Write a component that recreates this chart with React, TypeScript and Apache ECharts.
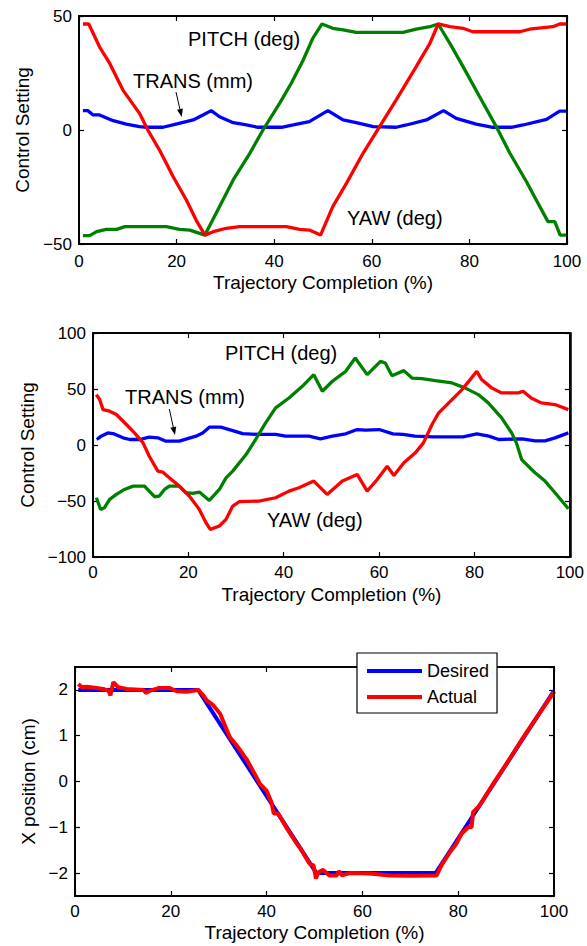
import React, { useEffect, useRef } from "react";
import * as echarts from "echarts";

type P = [number, number];

// ---------- Plot 1 (simulated control settings) ----------
const p1Yaw: P[] = [[0.8,46.5],[2.0,46.5],[4.2,36.5],[6.3,29.2],[9.0,17.5],[12.4,7.3],[14.1,0],[16.5,-8.8],[19.3,-20.5],[22.0,-30.7],[24.0,-39.5],[25.8,-46.1],[27.5,-44.6],[30.2,-43.1],[32.9,-42.4],[42.5,-42.4],[45.2,-43.6],[47.2,-43.9],[49.5,-46.1],[52.0,-33.6],[54.8,-23.4],[58.2,-10.2],[61.6,1.5],[65.0,13.2],[69.1,27.8],[71.9,38.0],[73.6,46.5],[76.0,45.3],[78.7,44.6],[80.7,43.1],[90.3,43.1],[92.3,44.2],[97.1,45.3],[98.5,46.5],[100,46.5]];
const p1Pitch: P[] = [[0.8,-46.3],[2.2,-46.3],[3.6,-44.6],[5.6,-43.6],[7.7,-43.6],[9.4,-42.4],[17.9,-42.4],[20.6,-43.6],[22.7,-43.9],[25.8,-46.1],[28.1,-36.5],[31.6,-21.9],[35.0,-10.2],[37.7,0],[41.1,11.7],[43.5,20.5],[45.9,30.5],[47.9,40.2],[49.8,46.5],[52.0,44.6],[54.1,43.9],[56.8,42.8],[66.4,42.8],[69.1,44.2],[71.9,45.3],[73.6,46.5],[76.0,38.0],[78.7,27.8],[82.1,14.6],[85.5,1.5],[88.3,-10.2],[91.7,-22.7],[93.7,-30.7],[96.1,-40.2],[97.5,-40.2],[98.6,-46.1],[100,-46.1]];
const p1Trans: P[] = [[0.8,8.5],[1.8,8.5],[2.9,6.6],[4.2,6.6],[7.0,4.1],[9.7,2.6],[12.4,1.5],[13.8,1.2],[17.2,1.2],[19.9,2.6],[23.4,4.4],[25.4,6.6],[27.1,8.5],[28.8,5.8],[31.6,3.2],[34.3,2.2],[36.7,1.2],[41.5,1.2],[43.9,2.2],[47.2,3.7],[51.0,8.5],[54.1,4.4],[56.8,3.2],[60.3,1.5],[65.0,1.2],[67.1,2.2],[71.2,4.4],[74.7,8.5],[77.3,5.1],[81.4,2.6],[84.8,1.2],[88.6,1.2],[91.0,2.2],[95.8,4.7],[98.5,8.3],[100,8.3]];

// ---------- Plot 2 (measured control settings) ----------
const p2Yaw: P[] = [[0.7,45.0],[1.4,40.6],[2.1,31.6],[3.5,30.2],[4.9,27.2],[7.0,18.3],[8.7,10.8],[10.5,1.9],[11.8,-10.0],[13.6,-23.3],[14.6,-24.2],[16.0,-29.3],[18.1,-36.7],[20.2,-45.6],[22.3,-57.5],[23.7,-69.4],[24.6,-75.3],[26.5,-72.3],[27.9,-66.4],[29.3,-54.5],[30.7,-50.6],[34.8,-50.1],[38.3,-47.1],[41.1,-41.2],[43.2,-38.2],[46.3,-32.2],[49.1,-44.1],[52.3,-32.2],[55.4,-26.3],[57.5,-41.2],[59.6,-30.8],[61.7,-18.9],[63.1,-27.2],[65.2,-15.9],[67.6,-7.0],[69.3,1.9],[71.1,18.3],[72.5,28.7],[74.6,37.6],[77.4,49.5],[79.1,58.4],[80.5,65.8],[81.5,58.4],[83.6,51.0],[85.7,46.5],[89.2,46.5],[90.2,48.0],[91.9,42.0],[94.0,37.6],[96.9,36.1],[99.7,31.6]];
const p2Pitch: P[] = [[0.7,-47.1],[1.6,-57.5],[2.4,-56.0],[3.5,-48.6],[4.9,-44.1],[6.6,-39.7],[8.4,-36.7],[10.8,-36.7],[12.9,-46.2],[13.9,-45.6],[15.0,-39.7],[16.0,-36.7],[18.1,-36.7],[19.5,-42.6],[20.9,-43.2],[22.3,-42.0],[24.4,-49.5],[26.5,-39.7],[27.9,-29.3],[29.3,-23.3],[32.1,-8.5],[34.1,4.9],[36.2,19.8],[38.3,33.1],[41.1,42.0],[43.9,52.4],[46.3,62.8],[48.1,48.0],[50.2,56.9],[53.0,65.8],[55.0,77.7],[57.5,62.8],[60.3,74.7],[61.3,73.2],[62.7,61.9],[65.2,66.4],[66.9,59.8],[69.0,59.3],[71.8,57.5],[75.3,55.4],[78.0,51.0],[80.8,45.0],[82.9,37.6],[85.7,24.2],[87.8,10.8],[88.8,1.9],[89.9,-13.0],[92.7,-24.8],[94.8,-32.2],[96.9,-42.6],[99.7,-56.9]];
const p2Trans: P[] = [[0.8,4.9],[1.7,7.9],[3.1,10.8],[4.2,10.2],[6.3,6.4],[7.7,4.9],[9.8,4.9],[11.8,7.0],[13.6,6.4],[15.3,3.4],[18.1,3.4],[21.6,7.9],[23.0,10.8],[24.4,15.9],[26.8,15.9],[29.3,12.9],[31.4,10.2],[34.8,9.4],[38.3,9.4],[40.4,7.9],[45.3,7.9],[47.7,5.5],[50.2,7.9],[53.0,10.0],[55.4,13.8],[57.2,13.2],[60.0,13.8],[62.9,10.0],[65.0,9.4],[67.5,7.9],[71.3,7.3],[77.6,7.3],[80.5,10.0],[83.0,7.9],[85.1,4.9],[90.0,5.5],[92.7,3.7],[94.8,3.7],[96.9,6.4],[99.7,10.8]];

// ---------- Plot 3 (X position) ----------
const p3Desired: P[] = [[0.7,2],[25.7,2],[50.4,-2],[75.3,-2],[100,1.98]];
const p3Actual: P[] = [[0.7,2.13],[1.4,2.06],[2.4,2.07],[4.5,2.04],[5.9,2.02],[7.0,1.98],[7.4,1.88],[8.0,2.17],[9.0,2.06],[10.8,2.02],[14.3,2.0],[14.8,1.93],[15.6,1.98],[17.4,2.04],[19.8,2.04],[21.2,1.97],[23.3,1.96],[25.7,2.0],[26.8,1.88],[27.5,1.77],[28.9,1.66],[30.3,1.48],[32.3,0.97],[33.8,0.78],[35.8,0.49],[37.9,0.09],[38.6,-0.05],[40.0,-0.2],[41.0,-0.45],[41.5,-0.7],[42.4,-0.7],[44.1,-1.0],[46.3,-1.36],[47.0,-1.45],[49.0,-1.8],[49.8,-1.83],[50.3,-2.12],[50.8,-1.98],[51.8,-1.93],[53.1,-2.05],[54.6,-2.05],[55.1,-1.96],[55.7,-2.05],[57.4,-2.0],[61.5,-2.01],[65.7,-2.05],[69.9,-2.06],[75.5,-2.05],[76.5,-1.83],[78.3,-1.54],[79.6,-1.36],[80.7,-1.14],[82.1,-1.0],[82.8,-1.0],[83.1,-0.67],[84.5,-0.52],[87.3,-0.05],[90.1,0.39],[93.6,0.97],[97.1,1.51],[100,1.95]];

// axis ranges and tick steps
const xRange = { min: 0, max: 100, step: 20 };
const y1Range = { min: -50, max: 50, step: 50 };
const y2Range = { min: -100, max: 100, step: 50 };
const y3Range = { min: -2.5, max: 2.5, step: 1 };

const xTitle = "Trajectory Completion (%)";
const y12Title = "Control Setting";
const y3Title = "X position (cm)";
const legendNames = ["Desired", "Actual"];

const BLUE = "#0000ff";
const GREEN = "#008000";
const RED = "#ff0000";
const FONT = "'Liberation Sans', Arial, Helvetica, sans-serif";

// MATLAB-style minus sign; hide the non-integer end labels of the X position axis
const fmt = (v: number) => (Math.abs(v - Math.round(v)) > 1e-9 ? "" : String(v).replace("-", "\u2212"));

function arrow(x1: number, y1: number, x2: number, y2: number) {
  const dx = x2 - x1, dy = y2 - y1;
  const L = Math.sqrt(dx * dx + dy * dy);
  const ux = dx / L, uy = dy / L;
  const hl = 8, hw = 3;
  const bx = x2 - ux * hl, by = y2 - uy * hl;
  return [
    { type: "line", z: 20, shape: { x1, y1, x2: bx, y2: by }, style: { stroke: "#000", lineWidth: 1 } },
    { type: "polygon", z: 20, shape: { points: [[x2, y2], [bx + uy * hw, by - ux * hw], [bx - uy * hw, by + ux * hw]] }, style: { fill: "#000" } },
  ];
}

function label(text: string, x: number, y: number) {
  return { type: "text", x, y, z: 20, style: { text, fontSize: 20, fontFamily: FONT, fill: "#000", align: "left", verticalAlign: "middle" } };
}

export default function App() {
  const ref = useRef<HTMLDivElement>(null);
  useEffect(() => {
    document.body.style.margin = "0";
    const chart = echarts.init(ref.current!, undefined, { renderer: "svg" });

    const grids = [
      { left: 79, top: 16, width: 488, height: 228 },
      { left: 93, top: 333, width: 478, height: 224 },
      { left: 75, top: 667, width: 479, height: 229 },
    ];
    const yRanges = [
      { r: y1Range, name: y12Title, gap: 45, fixed: true },
      { r: y2Range, name: y12Title, gap: 56, fixed: true },
      { r: y3Range, name: y3Title, gap: 34, fixed: false },
    ];
    const xGaps = [29, 28, 27];
    const xMargins = [9, 7, 7];

    const lineAx = { show: true, onZero: false, lineStyle: { color: "#000", width: 1.5 } };
    const tick = { show: true, inside: true, length: 5, lineStyle: { color: "#000", width: 1.2 } };

    const xAxis: any[] = [];
    const yAxis: any[] = [];
    grids.forEach((_, i) => {
      const xBase = { type: "value", gridIndex: i, min: xRange.min, max: xRange.max, interval: xRange.step, splitLine: { show: false }, axisLine: lineAx, axisTick: tick };
      xAxis.push({
        ...xBase, position: "bottom",
        name: xTitle, nameLocation: "middle", nameGap: xGaps[i],
        nameTextStyle: { fontSize: 19, color: "#000", fontFamily: FONT },
        axisLabel: { fontSize: 17, color: "#000", fontFamily: FONT, margin: xMargins[i], formatter: fmt },
      });
      xAxis.push({ ...xBase, position: "top", axisLabel: { show: false } });

      const yr = yRanges[i];
      const yBase: any = { type: "value", gridIndex: i, min: yr.r.min, max: yr.r.max, splitLine: { show: false }, axisLine: lineAx, axisTick: tick };
      if (yr.fixed) yBase.interval = yr.r.step; else yBase.splitNumber = (yr.r.max - yr.r.min) / yr.r.step;
      yAxis.push({
        ...yBase, position: "left",
        name: yr.name, nameLocation: "middle", nameGap: yr.gap, nameRotate: 90,
        nameTextStyle: { fontSize: 19, color: "#000", fontFamily: FONT },
        axisLabel: { fontSize: 17, color: "#000", fontFamily: FONT, margin: 7, formatter: fmt, showMinLabel: yr.fixed, showMaxLabel: yr.fixed },
      });
      yAxis.push({ ...yBase, position: "right", axisLabel: { show: false } });
    });

    const mk = (name: string, data: P[], color: string, gi: number, width = 3.3) => ({
      type: "line", name, data, xAxisIndex: gi * 2, yAxisIndex: gi * 2,
      showSymbol: false, symbol: "none", color,
      lineStyle: { color, width }, emphasis: { disabled: true }, silent: true,
    });

    // plot frames (box around each axes area, MATLAB "box on")
    const frames = grids.map((g) => ({
      type: "rect", z: 25, silent: true,
      shape: { x: g.left, y: g.top, width: g.width, height: g.height },
      style: { stroke: "#000", lineWidth: 1.5, fill: null },
    }));

    chart.setOption({
      animation: false,
      backgroundColor: "#fff",
      grid: grids.map((g) => ({ ...g, show: true, borderColor: "#000", borderWidth: 1.5, backgroundColor: "rgba(0,0,0,0)", containLabel: false })),
      xAxis, yAxis,
      legend: {
        data: legendNames, orient: "vertical", left: 357, top: 653,
        padding: [8, 8, 6, 10], itemWidth: 55, itemHeight: 4, itemGap: 6,
        icon: "rect",
        backgroundColor: "#fff", borderColor: "#000", borderWidth: 1.2, borderRadius: 0,
        textStyle: { fontSize: 18, color: "#000", fontFamily: FONT, lineHeight: 20 },
        selectedMode: false, z: 30,
      },
      series: [
        mk("p1 TRANS", p1Trans, BLUE, 0),
        mk("p1 PITCH", p1Pitch, GREEN, 0),
        mk("p1 YAW", p1Yaw, RED, 0),
        mk("p2 TRANS", p2Trans, BLUE, 1),
        mk("p2 PITCH", p2Pitch, GREEN, 1),
        mk("p2 YAW", p2Yaw, RED, 1),
        mk("Desired", p3Desired, BLUE, 2, 4),
        mk("Actual", p3Actual, RED, 2, 4),
      ],
      graphic: [
        ...frames,
        label("PITCH (deg)", 188, 39),
        label("TRANS (mm)", 133, 81),
        label("YAW (deg)", 347, 218),
        ...arrow(176, 92, 181.7, 117),
        label("PITCH (deg)", 225, 353),
        label("TRANS (mm)", 125, 397),
        label("YAW (deg)", 267, 520),
        ...arrow(169.3, 409, 175, 435),
      ],
    });
    return () => chart.dispose();
  }, []);
  return <div ref={ref} style={{ width: 587, height: 946 }} />;
}
